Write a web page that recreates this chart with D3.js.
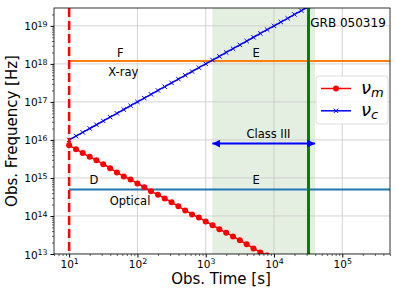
<!DOCTYPE html>
<html>
<head>
<meta charset="utf-8">
<script src="https://cdn.jsdelivr.net/npm/d3@7"></script>
<style>
body { margin: 0; background: #fff; }
text { font-family: "DejaVu Sans", sans-serif; fill: #000; }
</style>
</head>
<body>
<div id="chart"></div>
<script>
// Data
const times = [10, 12.6, 15.8, 20, 25.1, 31.6, 39.8, 50.1, 63.1, 79.4,
  100, 126, 158, 200, 251, 316, 398, 501, 631, 794,
  1000, 1259, 1585, 1995, 2512, 3162, 3981, 5012, 6310, 7943,
  10000, 12589, 15849, 19953, 25119, 31623, 39811];
const nuM = [7.2e15, 5.7e15, 4.5e15, 3.6e15, 2.9e15, 2.3e15, 1.8e15, 1.4e15, 1.1e15, 9.1e14,
  7.2e14, 5.7e14, 4.5e14, 3.6e14, 2.9e14, 2.3e14, 1.8e14, 1.4e14, 1.1e14, 9.1e13,
  7.2e13, 5.7e13, 4.5e13, 3.6e13, 2.9e13, 2.3e13, 1.8e13, 1.4e13, 1.1e13, 9.1e12,
  7.2e12, 5.7e12, 4.5e12, 3.6e12, 2.9e12, 2.3e12, 1.8e12];
const nuC = [1e16, 1.26e16, 1.58e16, 2e16, 2.51e16, 3.16e16, 3.98e16, 5.01e16, 6.31e16, 7.94e16,
  1e17, 1.26e17, 1.58e17, 2e17, 2.51e17, 3.16e17, 3.98e17, 5.01e17, 6.31e17, 7.94e17,
  1e18, 1.26e18, 1.58e18, 2e18, 2.51e18, 3.16e18, 3.98e18, 5.01e18, 6.31e18, 7.94e18,
  1e19, 1.26e19, 1.58e19, 2e19, 2.51e19, 3.16e19, 3.98e19];

const timeTicks = [1e1, 1e2, 1e3, 1e4, 1e5];
const freqTicks = [1e13, 1e14, 1e15, 1e16, 1e17, 1e18, 1e19];

const xrayNu = 1.2e18;
const opticalNu = 5e14;
const tStart = 10;
const tGrb = 3.2e4;
const classSpan = [1250, 4e4];
const arrowNu = 8e15;

const annotations = [
  {text: "F", t: 56, nu: 2e18},
  {text: "E", t: 5500, nu: 2e18},
  {text: "X-ray", t: 62, nu: 6.2e17},
  {text: "D", t: 23, nu: 9e14},
  {text: "E", t: 5500, nu: 9e14},
  {text: "Optical", t: 78, nu: 2.5e14},
  {text: "Class III", t: 8300, nu: 1.45e16}
];

// Dimensions
const w = 398, h = 294;
const mLeft = 54, mRight = 390, mTop = 8, mBottom = 254;

const x = d3.scaleLog().domain([6, 5e5]).range([mLeft, mRight]);
const y = d3.scaleLog().domain([1e13, 2.95e19]).range([mBottom, mTop]);

const svg = d3.select("#chart").append("svg")
  .attr("width", w).attr("height", h);

const defs = svg.append("defs");
defs.append("clipPath").attr("id", "plot")
  .append("rect").attr("x", mLeft).attr("y", mTop)
  .attr("width", mRight - mLeft).attr("height", mBottom - mTop);

defs.append("marker").attr("id", "head")
  .attr("viewBox", "0 0 10 10").attr("refX", 10).attr("refY", 5)
  .attr("markerWidth", 8).attr("markerHeight", 8)
  .attr("markerUnits", "userSpaceOnUse")
  .attr("orient", "auto-start-reverse")
  .append("path").attr("d", "M0,0L10,5L0,10Z").attr("fill", "blue");

const plot = svg.append("g").attr("clip-path", "url(#plot)");

// shaded class III span
plot.append("rect")
  .attr("x", x(classSpan[0])).attr("y", mTop)
  .attr("width", x(classSpan[1]) - x(classSpan[0]))
  .attr("height", mBottom - mTop)
  .attr("fill", "#e5efe1");

// grid
plot.selectAll(".gx").data(timeTicks).enter().append("line")
  .attr("x1", d => x(d)).attr("x2", d => x(d))
  .attr("y1", mTop).attr("y2", mBottom)
  .attr("stroke", "#c8c8c8").attr("stroke-width", 0.8);
plot.selectAll(".gy").data(freqTicks).enter().append("line")
  .attr("y1", d => y(d)).attr("y2", d => y(d))
  .attr("x1", mLeft).attr("x2", mRight)
  .attr("stroke", "#c8c8c8").attr("stroke-width", 0.8);

// horizontal bands
plot.append("line").attr("x1", x(tStart)).attr("x2", mRight)
  .attr("y1", y(xrayNu)).attr("y2", y(xrayNu))
  .attr("stroke", "#ff7f0e").attr("stroke-width", 2);
plot.append("line").attr("x1", x(tStart)).attr("x2", mRight)
  .attr("y1", y(opticalNu)).attr("y2", y(opticalNu))
  .attr("stroke", "#1f77b4").attr("stroke-width", 2);

// nu_c
const line = d3.line().x(d => x(d[0])).y(d => y(d[1]));
const cData = times.map((t, i) => [t, nuC[i]]);
const mData = times.map((t, i) => [t, nuM[i]]);

plot.append("path").datum(cData).attr("d", line)
  .attr("fill", "none").attr("stroke", "blue").attr("stroke-width", 1.5);
plot.selectAll(".xm").data(cData).enter().append("path")
  .attr("d", d => {
    const cx = x(d[0]), cy = y(d[1]), s = 2.2;
    return `M${cx - s},${cy - s}L${cx + s},${cy + s}M${cx - s},${cy + s}L${cx + s},${cy - s}`;
  })
  .attr("stroke", "blue").attr("stroke-width", 1);

// nu_m
plot.append("path").datum(mData).attr("d", line)
  .attr("fill", "none").attr("stroke", "red").attr("stroke-width", 1.5);
plot.selectAll(".dm").data(mData).enter().append("circle")
  .attr("cx", d => x(d[0])).attr("cy", d => y(d[1])).attr("r", 3)
  .attr("fill", "red");

// verticals
plot.append("line").attr("x1", x(tStart)).attr("x2", x(tStart))
  .attr("y1", mTop).attr("y2", mBottom)
  .attr("stroke", "red").attr("stroke-width", 2.5)
  .attr("stroke-dasharray", "9,4");
plot.append("line").attr("x1", x(tGrb)).attr("x2", x(tGrb))
  .attr("y1", mTop).attr("y2", mBottom)
  .attr("stroke", "green").attr("stroke-width", 3);

// arrow
plot.append("line")
  .attr("x1", x(classSpan[0])).attr("x2", x(classSpan[1]))
  .attr("y1", y(arrowNu)).attr("y2", y(arrowNu))
  .attr("stroke", "blue").attr("stroke-width", 2)
  .attr("marker-start", "url(#head)").attr("marker-end", "url(#head)");

// annotations
svg.selectAll(".ann").data(annotations).enter().append("text")
  .attr("x", d => x(d.t)).attr("y", d => y(d.nu))
  .attr("text-anchor", "middle").attr("dy", "0.36em")
  .style("font-size", "11.5px")
  .text(d => d.text);

svg.append("text").attr("x", x(3.4e4)).attr("y", y(1.2e19))
  .attr("dy", "0.36em").style("font-size", "12px").text("GRB 050319");

// axes
const minorX = x.ticks().filter(d => !timeTicks.includes(d));
const minorY = y.ticks().filter(d => !freqTicks.some(f => Math.abs(f - d) / f < 1e-6));

svg.append("g").attr("transform", `translate(0,${mBottom})`)
  .call(d3.axisBottom(x).tickValues(minorX).tickSize(2).tickFormat(""))
  .call(g => g.select(".domain").remove())
  .selectAll("line").attr("stroke-width", 0.6);
const gx = svg.append("g").attr("transform", `translate(0,${mBottom})`)
  .call(d3.axisBottom(x).tickValues(timeTicks).tickSize(3.5).tickFormat(""));
gx.select(".domain").remove();
gx.selectAll(".tick").append("text")
  .attr("y", 14).attr("text-anchor", "middle")
  .style("font-size", "10.5px")
  .each(function(d) {
    const t = d3.select(this);
    t.append("tspan").text("10");
    t.append("tspan").attr("dy", "-0.45em").style("font-size", "7.8px").text(Math.round(Math.log10(d)));
  });

svg.append("g").attr("transform", `translate(${mLeft},0)`)
  .call(d3.axisLeft(y).tickValues(minorY).tickSize(2).tickFormat(""))
  .call(g => g.select(".domain").remove())
  .selectAll("line").attr("stroke-width", 0.6);
const gy = svg.append("g").attr("transform", `translate(${mLeft},0)`)
  .call(d3.axisLeft(y).tickValues(freqTicks).tickSize(3.5).tickFormat(""));
gy.select(".domain").remove();
gy.selectAll(".tick").append("text")
  .attr("x", -6.5).attr("y", 4).attr("text-anchor", "end")
  .style("font-size", "10.5px")
  .each(function(d) {
    const t = d3.select(this);
    t.append("tspan").text("10");
    t.append("tspan").attr("dy", "-0.45em").style("font-size", "7.8px").text(Math.round(Math.log10(d)));
  });

// frame
svg.append("rect").attr("x", mLeft).attr("y", mTop)
  .attr("width", mRight - mLeft).attr("height", mBottom - mTop)
  .attr("fill", "none").attr("stroke", "#000").attr("stroke-width", 0.8);

// axis labels
svg.append("text").attr("x", 221).attr("y", 284)
  .attr("text-anchor", "middle").style("font-size", "15px")
  .text("Obs. Time [s]");
svg.append("text")
  .attr("transform", `translate(16.5,131) rotate(-90)`)
  .attr("text-anchor", "middle").style("font-size", "15px")
  .text("Obs. Frequency [Hz]");

// legend
const legend = svg.append("g").attr("id", "legend");
legend.append("rect").attr("x", 316).attr("y", 76).attr("width", 72).attr("height", 48)
  .attr("rx", 3).attr("fill", "#fff").attr("fill-opacity", 0.8)
  .attr("stroke", "#d6d6d6").attr("stroke-width", 0.8);
const items = [
  {sym: "m", color: "red", mark: "dot"},
  {sym: "c", color: "blue", mark: "x"}
];
items.forEach((d, i) => {
  const ly = 88.5 + i * 22.3;
  legend.append("line").attr("x1", 321).attr("x2", 351).attr("y1", ly).attr("y2", ly)
    .attr("stroke", d.color).attr("stroke-width", 1.5);
  if (d.mark === "dot") {
    legend.append("circle").attr("cx", 336).attr("cy", ly).attr("r", 3).attr("fill", d.color);
  } else {
    legend.append("path")
      .attr("d", `M333.8,${ly - 2.2}L338.2,${ly + 2.2}M333.8,${ly + 2.2}L338.2,${ly - 2.2}`)
      .attr("stroke", d.color).attr("stroke-width", 1);
  }
  const t = legend.append("text").attr("x", 361).attr("y", ly + 5);
  t.append("tspan").style("font-size", "18px").style("font-style", "italic").text("ν");
  t.append("tspan").attr("dy", 3).style("font-size", "13px").style("font-style", "italic").text(d.sym);
});
</script>
</body>
</html>
